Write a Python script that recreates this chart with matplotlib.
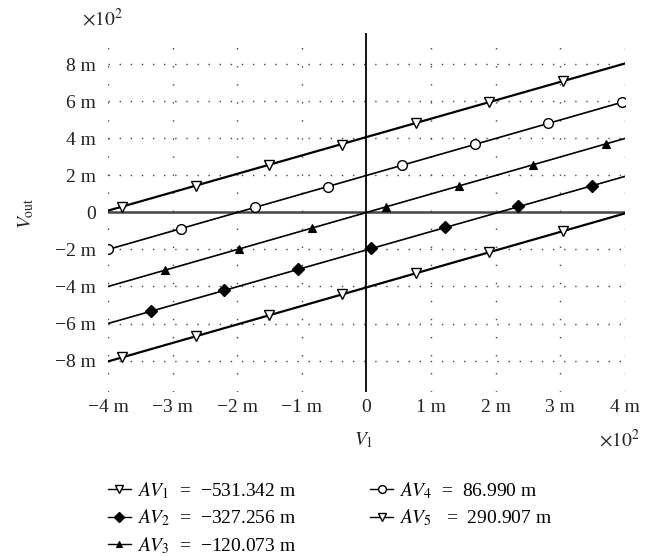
import matplotlib
matplotlib.use("Agg")
import matplotlib.pyplot as plt

plt.rcParams["font.family"] = ["Liberation Serif", "DejaVu Serif"]
plt.rcParams["mathtext.fontset"] = "stix"

# marker positions (V1, Vout), plus line end points
x_av1 = [-3.78, -2.64, -1.51, -0.38, 0.77, 1.90, 3.04]
y_av1 = [-7.83, -6.69, -5.56, -4.43, -3.28, -2.15, -1.01]
x_av2 = [-3.33, -2.20, -1.06, 0.07, 1.21, 2.35, 3.49]
y_av2 = [-5.33, -4.20, -3.06, -1.93, -0.79, 0.35, 1.45]
x_av3 = [-3.12, -1.98, -0.84, 0.30, 1.43, 2.57, 3.71]
y_av3 = [-3.12, -1.98, -0.84, 0.30, 1.43, 2.57, 3.71]
x_av4 = [-4.00, -2.87, -1.73, -0.60, 0.55, 1.68, 2.81, 3.96]
y_av4 = [-2.00, -0.87, 0.27, 1.40, 2.55, 3.68, 4.81, 5.96]
x_av5 = [-3.78, -2.64, -1.51, -0.38, 0.77, 1.90, 3.04]
y_av5 = [0.27, 1.41, 2.54, 3.67, 4.82, 5.95, 7.09]

line_x = [-4, 4]
line_y = [[-8.05, -0.05], [-6.0, 1.95], [-4.0, 4.0], [-2.0, 6.0], [0.1, 8.05]]

labels = [
    "$AV_1$  =  \u2212531.342 m",
    "$AV_2$  =  \u2212327.256 m",
    "$AV_3$  =  \u2212120.073 m",
    "$AV_4$  =  86.990 m",
    "$AV_5$   =  290.907 m",
]

xticks = [-4, -3, -2, -1, 0, 1, 2, 3, 4]
yticks = [-8, -6, -4, -2, 0, 2, 4, 6, 8]


def tick_text(v):
    if v == 0:
        return "0"
    return ("\u2212" if v < 0 else "") + f"{abs(v)} m"


fig = plt.figure(figsize=(6.61, 5.56), dpi=100)
ax = fig.add_axes([0.1634, 0.295, 0.782, 0.6457])
ax.set_xlim(-4, 4)
ax.set_ylim(-9.7, 9.7)
for s in ax.spines.values():
    s.set_visible(False)

# dotted grid
grid_col = "#444444"
for xv in xticks:
    if xv != 0:
        ax.plot([xv, xv], [-9.7, 9.7], color=grid_col, lw=1.0,
                ls=(0, (1, 12)), zorder=1)
for yv in yticks:
    if yv != 0:
        ax.plot([-4, 4], [yv, yv], color=grid_col, lw=1.0,
                ls=(0, (1, 7)), zorder=1)

# axes through origin
ax.plot([-4, 4], [0, 0], color="#444444", lw=1.8, zorder=2)
ax.plot([0, 0], [-9.7, 9.7], color="black", lw=1.3, zorder=2)

series = [
    (x_av1, y_av1, dict(marker="v", mfc="white", ms=7, mew=1.0)),
    (x_av2, y_av2, dict(marker="D", mfc="black", ms=6.5, mew=1.0)),
    (x_av3, y_av3, dict(marker="^", mfc="black", ms=6, mew=0.8)),
    (x_av4, y_av4, dict(marker="o", mfc="white", ms=7, mew=1.0)),
    (x_av5, y_av5, dict(marker="v", mfc="white", ms=7, mew=1.0)),
]
widths = [1.6, 1.2, 1.2, 1.2, 1.6]

handles = []
for (xs, ys, mk), ly, lw, lab in zip(series, line_y, widths, labels):
    ax.plot(line_x, ly, color="black", lw=lw, zorder=3)
    ax.plot(xs, ys, ls="none", color="black", mec="black", zorder=4, **mk)
    leg_mk = dict(mk)
    leg_mk["ms"] = mk["ms"] * 0.8
    h, = ax.plot([], [], color="black", lw=1.0, label=lab, **leg_mk)
    handles.append(h)

ax.set_xticks(xticks)
ax.set_xticklabels([tick_text(v) for v in xticks])
ax.set_yticks(yticks)
ax.set_yticklabels([tick_text(v) for v in yticks])
ax.tick_params(length=0, labelsize=14, colors="#222222")
ax.tick_params(axis="y", pad=9)
ax.tick_params(axis="x", pad=5)

fig.text(0.040, 0.617, "$V_{\\mathrm{out}}$", rotation=90, fontsize=14,
         ha="center", va="center", color="#222222")
fig.text(0.550, 0.209, "$V_1$", fontsize=14, ha="center", va="center",
         color="#222222")
fig.text(0.124, 0.967, "$\\times 10^2$", fontsize=14, ha="left",
         va="center", color="#222222")
fig.text(0.906, 0.209, "$\\times 10^2$", fontsize=14, ha="left",
         va="center", color="#222222")

fig.legend(handles=handles, ncol=2, loc="upper left",
           bbox_to_anchor=(0.163, 0.137), frameon=False, fontsize=14,
           handlelength=1.2, handletextpad=0.3, labelspacing=0.35,
           columnspacing=3.8, borderaxespad=0, borderpad=0)

fig.savefig("out.png", dpi=100)
